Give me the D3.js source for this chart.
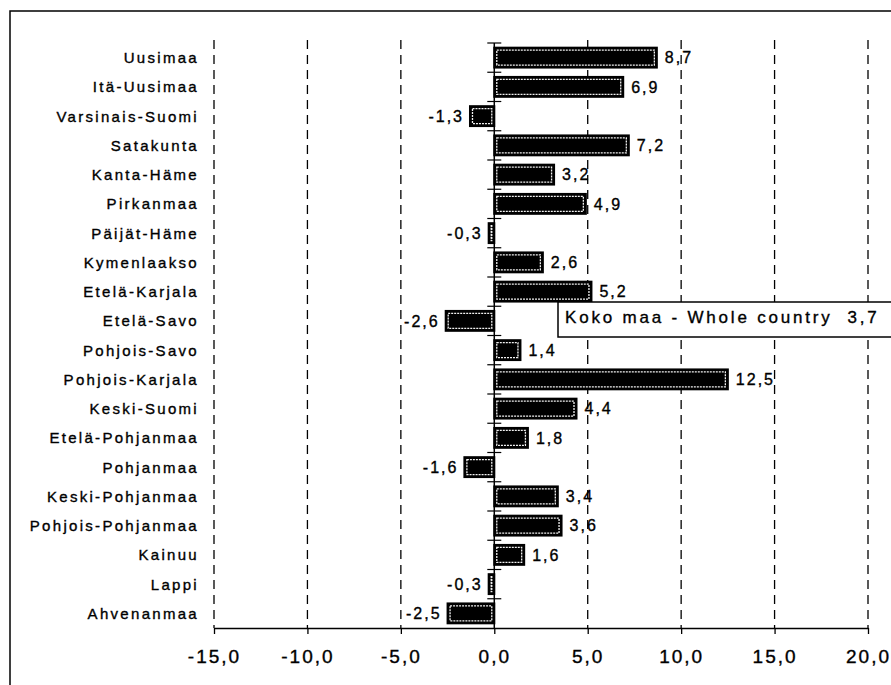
<!DOCTYPE html>
<html>
<head>
    <title>Regional change</title>
    <script src="https://d3js.org/d3.v7.min.js"></script>
    <style>
        body { margin: 0; background: #fff; }
        svg text { font-family: 'Liberation Sans', Arial, sans-serif; fill: #000; stroke: #000; stroke-width: 0.35px; }
        .cat { font-size: 15px; letter-spacing: 2.3px; }
        .val { font-size: 16px; letter-spacing: 2px; }
        .tick text { font-size: 19px; letter-spacing: 2px; }
        .note { font-size: 17px; letter-spacing: 2.8px; }
    </style>
</head>
<body>
<svg id="chart" width="891" height="685"></svg>
<script>
    const regions = ["Uusimaa", "Itä-Uusimaa", "Varsinais-Suomi", "Satakunta", "Kanta-Häme",
        "Pirkanmaa", "Päijät-Häme", "Kymenlaakso", "Etelä-Karjala", "Etelä-Savo",
        "Pohjois-Savo", "Pohjois-Karjala", "Keski-Suomi", "Etelä-Pohjanmaa", "Pohjanmaa",
        "Keski-Pohjanmaa", "Pohjois-Pohjanmaa", "Kainuu", "Lappi", "Ahvenanmaa"];
    const values = [8.7, 6.9, -1.3, 7.2, 3.2, 4.9, -0.3, 2.6, 5.2, -2.6,
        1.4, 12.5, 4.4, 1.8, -1.6, 3.4, 3.6, 1.6, -0.3, -2.5];
    const xTicks = [-15, -10, -5, 0, 5, 10, 15, 20];
    const wholeCountryLabel = "Koko maa - Whole country";
    const wholeCountry = 3.7;

    const data = regions.map((r, i) => ({ region: r, value: values[i] }));

    const fi = d3.formatLocale({ decimal: ",", thousands: " ", grouping: [3], currency: ["", "€"], minus: "-" });
    const fmt = fi.format(".1f");

    const svg = d3.select("#chart");
    const plotTop = 43, plotBottom = 628;

    const x = d3.scaleLinear().domain([-15, 20]).range([214, 868]);
    const y = d3.scaleBand().domain(regions).range([plotTop, plotBottom]).paddingInner(0.32).paddingOuter(0.16);

    // outer frame
    svg.append("rect")
        .attr("x", 10).attr("y", 11).attr("width", 900).attr("height", 700)
        .attr("fill", "none").attr("stroke", "#000").attr("stroke-width", 1.5);

    // dashed grid
    svg.append("g").selectAll("line")
        .data(xTicks.filter(t => t !== 0))
        .enter().append("line")
        .attr("x1", d => x(d)).attr("x2", d => x(d))
        .attr("y1", 40).attr("y2", plotBottom)
        .attr("stroke", "#000").attr("stroke-width", 1.3)
        .attr("stroke-dasharray", "9,6");

    // x axis
    const xAxis = svg.append("g")
        .attr("transform", `translate(0,${plotBottom})`)
        .call(d3.axisBottom(x).tickValues(xTicks).tickFormat(fmt).tickSize(6).tickSizeOuter(0).tickPadding(16));
    xAxis.select(".domain").attr("stroke-width", 1.5);
    xAxis.selectAll(".tick line").attr("stroke-width", 1.3);

    // bars
    const bars = svg.append("g").selectAll("g")
        .data(data).enter().append("g");

    bars.append("rect")
        .attr("x", d => x(Math.min(0, d.value)))
        .attr("y", d => y(d.region))
        .attr("width", d => Math.abs(x(d.value) - x(0)))
        .attr("height", y.bandwidth())
        .attr("fill", "#000").attr("stroke", "#000").attr("stroke-width", 2);

    bars.append("rect")
        .attr("x", d => x(Math.min(0, d.value)) + 2.5)
        .attr("y", d => y(d.region) + 2.5)
        .attr("width", d => Math.max(0.5, Math.abs(x(d.value) - x(0)) - 5))
        .attr("height", y.bandwidth() - 5)
        .attr("fill", "none").attr("stroke", "#f2f2f2").attr("stroke-width", 1.3)
        .attr("stroke-dasharray", "2,1");

    // value labels
    bars.append("text")
        .attr("class", "val")
        .attr("x", d => d.value >= 0 ? x(d.value) + 8 : x(d.value) - 6)
        .attr("y", d => y(d.region) + y.bandwidth() / 2)
        .attr("dy", "0.36em")
        .attr("text-anchor", d => d.value >= 0 ? "start" : "end")
        .text(d => fmt(d.value));

    // y axis line with boundary ticks
    svg.append("line")
        .attr("x1", x(0)).attr("x2", x(0)).attr("y1", plotTop).attr("y2", plotBottom)
        .attr("stroke", "#000").attr("stroke-width", 1.5);
    const step = y.step();
    svg.append("g").selectAll("line")
        .data(d3.range(regions.length))
        .enter().append("line")
        .attr("x1", x(0) - 7).attr("x2", x(0) + 7)
        .attr("y1", i => plotTop + i * step).attr("y2", i => plotTop + i * step)
        .attr("stroke", "#000").attr("stroke-width", 1.2);

    // category labels
    svg.append("g").selectAll("text")
        .data(regions).enter().append("text")
        .attr("class", "cat")
        .attr("x", 199)
        .attr("y", d => y(d) + y.bandwidth() / 2)
        .attr("dy", "0.36em")
        .attr("text-anchor", "end")
        .text(d => d);

    // whole country note
    svg.append("rect")
        .attr("x", 558).attr("y", 302).attr("width", 400).attr("height", 35)
        .attr("fill", "#fff").attr("stroke", "#000").attr("stroke-width", 1.5);
    svg.append("text")
        .attr("class", "note")
        .attr("x", 565).attr("y", 323)
        .attr("xml:space", "preserve")
        .style("white-space", "pre")
        .text(wholeCountryLabel + "  " + fmt(wholeCountry));
</script>
</body>
</html>
